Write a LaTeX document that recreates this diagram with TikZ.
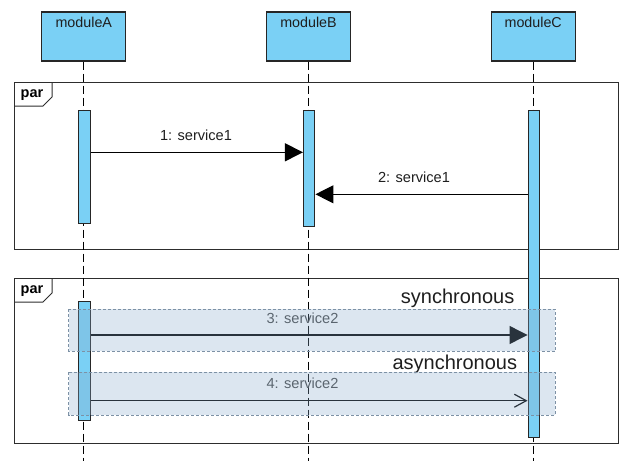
\documentclass[tikz,border=0pt]{standalone}
\usepackage{fontspec}
\setmainfont{Liberation Sans}
\usetikzlibrary{arrows.meta,positioning}

\definecolor{modblue}{RGB}{122,208,245}
\definecolor{hlblue}{RGB}{138,172,205}
\definecolor{hledge}{RGB}{125,145,165}
\definecolor{txtgray}{RGB}{70,70,70}
\definecolor{framegray}{RGB}{45,45,45}
\definecolor{textdark}{RGB}{30,30,30}

\begin{document}
\begin{tikzpicture}[x=1pt,y=-1pt,
  module/.style={draw=black!85,line width=1.2pt,fill=modblue,minimum width=84pt,minimum height=49pt,inner sep=0pt},
  modname/.style={font=\fontsize{14.3}{16}\selectfont,text=textdark,anchor=north,inner sep=0pt},
  activ/.style={draw=black!85,line width=1pt,fill=modblue,minimum width=11.5pt,inner sep=0pt},
  lifeline/.style={line width=1.1pt,dash pattern=on 8pt off 4pt},
  frame/.style={draw=framegray,line width=1pt},
  partxt/.style={font=\fontsize{14.5}{16}\selectfont\bfseries,anchor=base west,inner sep=0pt},
  msg/.style={line width=1.2pt,-{Triangle[length=18pt,width=18pt]}},
  amsg/.style={line width=1.2pt,-{Straight Barb[length=12pt,width=13pt]}},
  lbl/.style={font=\fontsize{14.6}{16}\selectfont,text=textdark,anchor=base,inner sep=0pt},
  big/.style={font=\fontsize{20}{22}\selectfont,text=textdark,anchor=base east,inner sep=0pt},
  hl/.style={fill=hlblue,fill opacity=0.3,draw=hledge,dash pattern=on 3pt off 2pt,line width=0.8pt}
]
\useasboundingbox (0,0) rectangle (619,461);

% fragmentos par
\draw[frame] (14,82) rectangle (618,249);
\draw[frame] (14,106) -- (43,106) -- (52,97) -- (52,82);
\node[partxt] (par1) at (20.5,97.5) {par};

\draw[frame] (14,278) rectangle (618,443);
\draw[frame] (14,302) -- (43,302) -- (52,293) -- (52,278);
\node[partxt] (par2) at (20.5,293.5) {par};

% modulos
\node[module] (modA) at (83.8,36.5) {};
\node[module] (modB) at (308.5,36.5) {};
\node[module] (modC) at (533.2,36.5) {};
\node[modname] (nameA) at ([yshift=-6pt]modA.north) {moduleA};
\node[modname] (nameB) at ([yshift=-6pt]modB.north) {moduleB};
\node[modname] (nameC) at ([yshift=-6pt]modC.north) {moduleC};

% linhas de vida
\draw[lifeline] (modA.south) -- (modA.south |- 0,461);
\draw[lifeline] (modB.south) -- (modB.south |- 0,461);
\draw[lifeline] (modC.south) -- (modC.south |- 0,461);

% ativacoes
\node[activ,minimum height=113.5pt] (actA1) at (84.5,166.75) {};
\node[activ,minimum height=116.7pt] (actB) at (309.2,168.35) {};
\node[activ,minimum height=327pt] (actC) at (533.8,273.5) {};
\node[activ,minimum height=119pt] (actA2) at (84.5,360.5) {};

% mensagens do primeiro par
\draw[msg] (actA1.east |- 0,152.3) -- (actB.west |- 0,152.3);
\node[lbl] (l1) at (196,140.7) {1: service1};
\draw[msg] (actC.west |- 0,194.3) -- (actB.east |- 0,194.3);
\node[lbl] (l2) at (414,182.3) {2: service1};

% mensagens do segundo par
\node[big] (sync) at (514.5,303.3) {synchronous};
\draw[msg] (actA2.east |- 0,335) -- (actC.west |- 0,335);
\node[lbl,text=txtgray] (l3) at (302.5,323.3) {3: service2};

\node[big] (async) at (517.3,369) {asynchronous};
\draw[amsg] (actA2.east |- 0,400.7) -- (actC.west |- 0,400.7);
\node[lbl,text=txtgray] (l4) at (302.5,388.3) {4: service2};

% destaques
\draw[hl] (68.7,309) rectangle (555.3,351);
\draw[hl] (68.7,372.3) rectangle (555.3,415);

\end{tikzpicture}
\end{document}
